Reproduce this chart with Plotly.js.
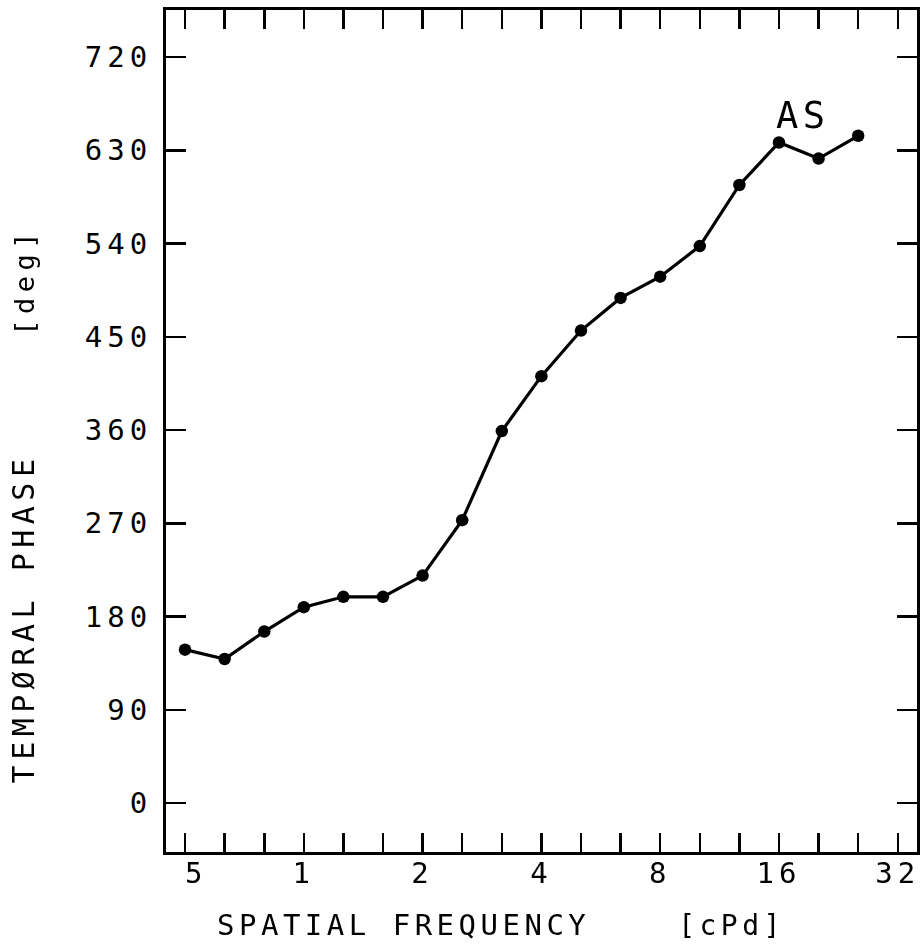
<!DOCTYPE html>
<html>
<head>
<meta charset="utf-8">
<script src="https://cdn.plot.ly/plotly-3.0.1.min.js"></script>
<style>
  html, body { margin: 0; padding: 0; background: #ffffff; }
  #chart { width: 923px; height: 949px; }
  .xtick text, .ytick text, .x2tick text { letter-spacing: 5px; }
  text.annotation-text { letter-spacing: 4.5px; }
  g.annotation[data-index="2"] text.annotation-text { letter-spacing: 5.5px; }
</style>
</head>
<body>
<div id="chart"></div>
<script>
// Spatial frequency (cpd), 1/3-octave steps
const spatialFreq = [0.5, 0.63, 0.794, 1, 1.26, 1.587, 2, 2.52, 3.175, 4, 5.04, 6.35, 8, 10.08, 12.7, 16, 20.16, 25.4];
// Temporal phase (deg), observer AS
const temporalPhase = [148, 139, 165.5, 189, 199, 199, 219.5, 273, 359, 412, 456, 487.5, 508, 537.5, 596.5, 637.5, 622, 644];

const xTickVals = [0.5, 0.63, 0.794, 1, 1.26, 1.587, 2, 2.52, 3.175, 4, 5.04, 6.35, 8, 10.08, 12.7, 16, 20.16, 25.4, 32];
const xTickText = ["\u00a05", "", "", "1", "", "", "2", "", "", "4", "", "", "8", "", "", "16", "", "", "32"];
const yTickVals = [0, 90, 180, 270, 360, 450, 540, 630, 720];
const yTickText = ["0", "90", "180", "270", "360", "450", "540", "630", "720"];
const seriesLabel = "AS";
const xTitle = "SPATIAL FREQUENCY\u00a0\u00a0\u00a0\u00a0<span style=\"font-size:28px\">[cPd]</span>";
const yTitle = "TEMP\u00d8RAL PHASE\u00a0\u00a0\u00a0\u00a0\u00a0<span style=\"font-size:27px\">[deg]</span>";

const FONT = "DejaVu Sans Mono, monospace";
const XRANGE = [-0.3492, 1.5539];

const trace = {
  x: spatialFreq,
  y: temporalPhase,
  type: "scatter",
  mode: "lines+markers",
  line: { color: "#000000", width: 3.2 },
  marker: { color: "#000000", size: 12.5 },
  showlegend: false,
  hoverinfo: "x+y"
};

// same data on the top axis, invisible, so the top tick row is drawn
const topAxisTrace = {
  x: spatialFreq,
  y: temporalPhase,
  xaxis: "x2",
  type: "scatter",
  mode: "markers",
  marker: { opacity: 0 },
  opacity: 0,
  showlegend: false,
  hoverinfo: "skip"
};

const commonX = {
  type: "log",
  range: XRANGE,
  tickmode: "array",
  tickvals: xTickVals,
  ticks: "inside",
  ticklen: 19,
  tickwidth: 2.5,
  tickcolor: "#000000",
  showline: true,
  linewidth: 3,
  linecolor: "#000000",
  showgrid: false,
  zeroline: false
};

const layout = {
  width: 923,
  height: 949,
  margin: { l: 166, r: 6, t: 10, b: 97, pad: 0 },
  paper_bgcolor: "#ffffff",
  plot_bgcolor: "#ffffff",
  font: { family: FONT, size: 29, color: "#000000" },
  xaxis: Object.assign({}, commonX, {
    ticktext: xTickText,
    mirror: "ticks",
    tickfont: { family: FONT, size: 29, color: "#000000" },
    ticklabelstandoff: -7
  }),
  xaxis2: Object.assign({}, commonX, {
    overlaying: "x",
    anchor: "y",
    side: "top",
    ticktext: xTickText,
    showticklabels: false
  }),
  yaxis: {
    range: [-47.3, 765.4],
    tickmode: "array",
    tickvals: yTickVals,
    ticktext: yTickText,
    ticks: "inside",
    ticklen: 20,
    tickwidth: 2.5,
    tickcolor: "#000000",
    showline: true,
    linewidth: 3,
    linecolor: "#000000",
    mirror: "ticks",
    showgrid: false,
    zeroline: false,
    tickfont: { family: FONT, size: 29, color: "#000000" },
    ticklabelstandoff: 5
  },
  annotations: [
    {
      x: Math.log10(18.4),
      y: 664,
      xref: "x",
      yref: "y",
      text: seriesLabel,
      showarrow: false,
      font: { family: FONT, size: 37, color: "#000000" }
    },
    {
      x: 0.446,
      y: -0.0867,
      xref: "paper",
      yref: "paper",
      xanchor: "center",
      yanchor: "middle",
      text: xTitle,
      showarrow: false,
      font: { family: FONT, size: 29, color: "#000000" }
    },
    {
      x: -0.19,
      y: 0.412,
      xref: "paper",
      yref: "paper",
      xanchor: "center",
      yanchor: "middle",
      textangle: -90,
      text: yTitle,
      showarrow: false,
      font: { family: FONT, size: 30, color: "#000000" }
    }
  ]
};

Plotly.newPlot("chart", [trace, topAxisTrace], layout, { displayModeBar: false, staticPlot: true });
</script>
</body>
</html>
